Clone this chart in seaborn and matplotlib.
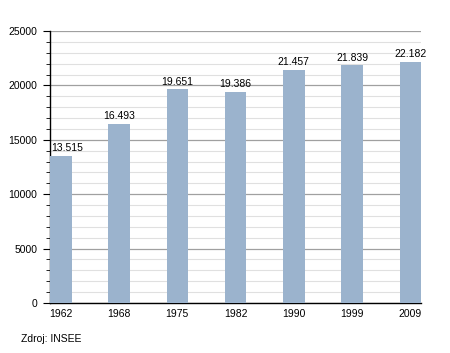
#! /usr/bin/env python3
# imports
import matplotlib
matplotlib.use('Agg')
import matplotlib.pyplot as plt
from matplotlib.ticker import MultipleLocator
import pandas as pd
import seaborn as sns

# data
years = ['1962', '1968', '1975', '1982', '1990', '1999', '2009']
population = [13515, 16493, 19651, 19386, 21457, 21839, 22182]
labels = ['13.515', '16.493', '19.651', '19.386', '21.457', '21.839', '22.182']
source = 'Zdroj: INSEE'

# settings
sns.set_style('white')
plt.rcParams['font.family'] = ['Liberation Sans', 'DejaVu Sans']
plt.rcParams['text.color'] = 'black'
plt.rcParams['xtick.color'] = 'black'
plt.rcParams['ytick.color'] = 'black'
bar_color = '#9bb3cd'

df = pd.DataFrame({'year': years, 'pop': population})

fig = plt.figure(figsize=(4.5, 3.53), dpi=100)
ax = fig.add_axes([0.111, 0.142, 0.825, 0.770])
sns.barplot(x='year', y='pop', data=df, color=bar_color, saturation=1,
            width=0.37, linewidth=0, ax=ax, zorder=3)

ax.set_ylim(0, 25000)
ax.set_xlim(-0.185, 6.185)
ax.yaxis.set_major_locator(MultipleLocator(5000))
ax.yaxis.set_minor_locator(MultipleLocator(1000))
ax.grid(axis='y', which='major', color='#a0a0a0', linewidth=0.9, zorder=0)
ax.grid(axis='y', which='minor', color='#e0e0e0', linewidth=0.8, zorder=0)
ax.set_axisbelow(True)

for s in ['top', 'right']:
    ax.spines[s].set_visible(False)
for s in ['left', 'bottom']:
    ax.spines[s].set_color('black')
    ax.spines[s].set_linewidth(1.0)

ax.tick_params(axis='y', which='major', left=True, length=5, width=0.8,
               labelsize=7.5, pad=4, color='black', labelcolor='black')
ax.tick_params(axis='y', which='minor', left=True, length=3, width=0.6,
               color='black')
ax.tick_params(axis='x', bottom=False, labelsize=7.5, pad=1, labelcolor='black')
ax.set_xlabel('')
ax.set_ylabel('')

for i, (v, t) in enumerate(zip(population, labels)):
    if i == 0:
        # first label is kept inside the plot area
        ax.text(-0.17, v + 250, t, ha='left', va='bottom', fontsize=7.5,
                color='black', zorder=4)
    else:
        ax.text(i, v + 250, t, ha='center', va='bottom', fontsize=7.5,
                color='black', zorder=4)

fig.text(0.047, 0.025, source, fontsize=7.5, ha='left', va='bottom',
         color='black')

fig.savefig('out.png', dpi=100)
plt.close()
